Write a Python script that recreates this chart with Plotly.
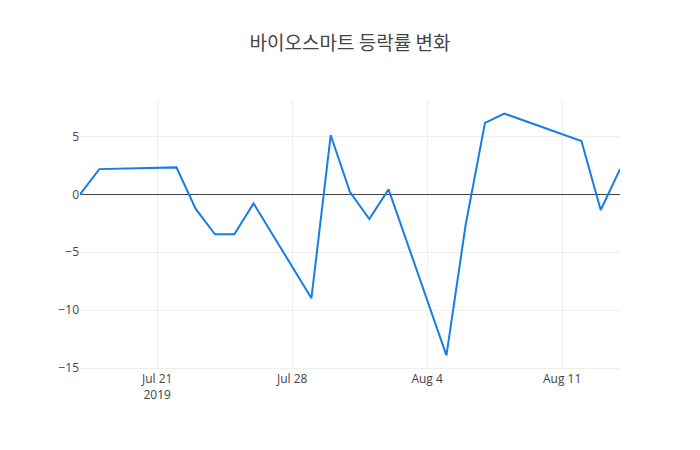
import plotly.graph_objects as go

dates = ["2019-07-17", "2019-07-18", "2019-07-22", "2019-07-23", "2019-07-24",
         "2019-07-25", "2019-07-26", "2019-07-29", "2019-07-30", "2019-07-31",
         "2019-08-01", "2019-08-02", "2019-08-05", "2019-08-06", "2019-08-07",
         "2019-08-08", "2019-08-12", "2019-08-13", "2019-08-14"]
changes = [0.0, 2.18, 2.33, -1.26, -3.45, -3.45, -0.78, -8.97, 5.11, 0.2,
           -2.13, 0.43, -13.9, -2.6, 6.18, 6.98, 4.6, -1.35, 2.18]

title_text = "바이오스마트 등락률 변화"

fig = go.Figure()
fig.add_trace(go.Scatter(x=dates, y=changes, mode="lines",
                         line=dict(color="#187ce8", width=2)))

fig.update_layout(
    width=700, height=450,
    title=dict(text=title_text, x=0.5, xanchor="center",
               font=dict(family="Noto Sans CJK KR", size=19, color="#444")),
    plot_bgcolor="white", paper_bgcolor="white",
    margin=dict(l=80, r=80, t=100, b=80),
    font=dict(family="Open Sans", size=12, color="#444"),
    showlegend=False,
    xaxis=dict(range=["2019-07-17", "2019-08-14"], showgrid=True,
               gridcolor="#eeeeee", zeroline=False, showline=False),
    yaxis=dict(range=[-15.17, 8.15], showgrid=True, gridcolor="#eeeeee",
               zeroline=True, zerolinecolor="#444", zerolinewidth=1,
               tickvals=[-15, -10, -5, 0, 5], showline=False),
)

fig.write_html("out.html")
